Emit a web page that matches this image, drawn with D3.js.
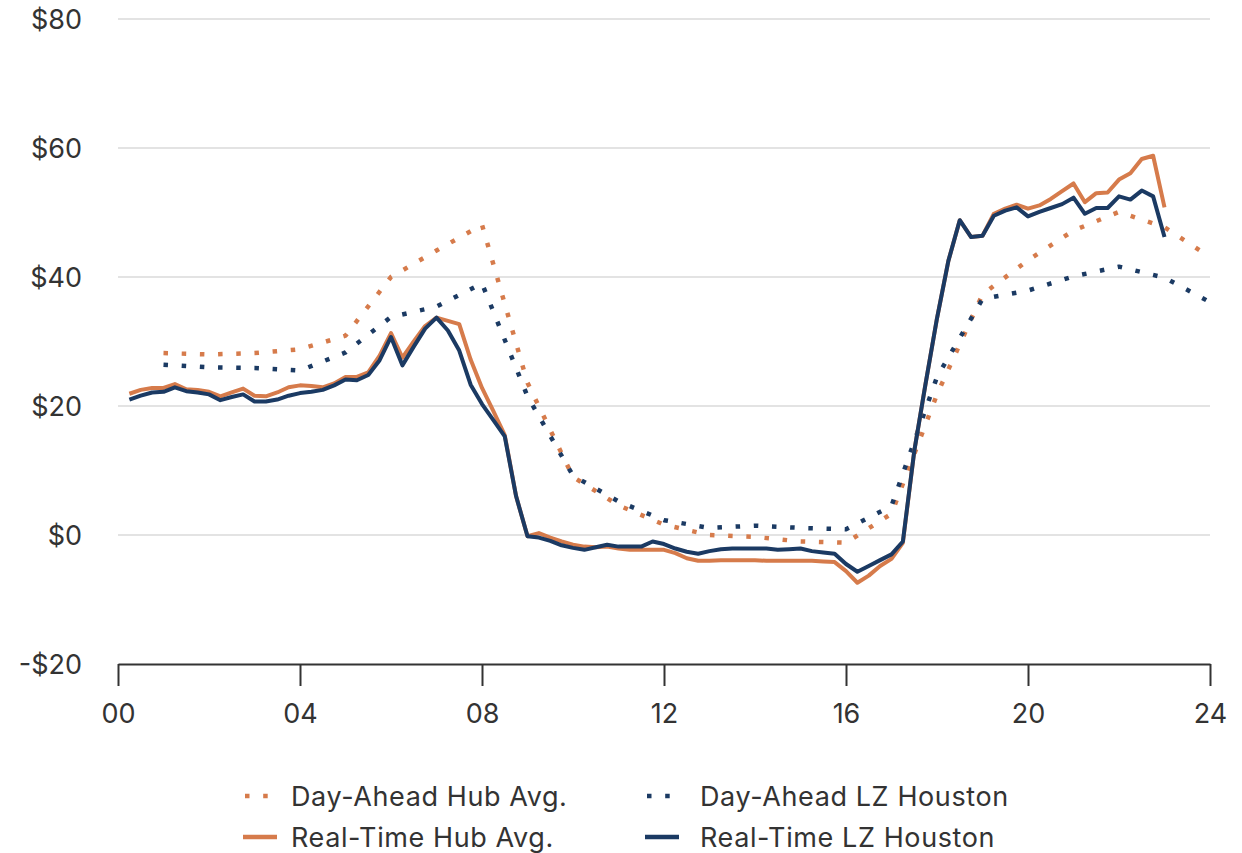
<!DOCTYPE html>
<html>
<head>
<meta charset="utf-8">
<script src="https://cdn.jsdelivr.net/npm/d3@7"></script>
<style>
  html, body { margin: 0; padding: 0; background: #fff; }
  svg { display: block; }
  text { font-family: Inter, "Liberation Sans", Arial, sans-serif; fill: #333; }
</style>
</head>
<body>
<svg id="chart" width="1242" height="853"></svg>
<script>
// ---- Data ----
const yTickValues = [-20, 0, 20, 40, 60, 80];
const xTickValues = [0, 4, 8, 12, 16, 20, 24];
const xTickLabels = ["00", "04", "08", "12", "16", "20", "24"];

const seriesNames = ["Day-Ahead Hub Avg.", "Day-Ahead LZ Houston", "Real-Time Hub Avg.", "Real-Time LZ Houston"];

// Day-ahead: hourly, hour-ending 1..24
const daHours = d3.range(1, 25);
const daHubAvg = [28.2, 28.0, 28.2, 28.8, 30.9, 40.0, 44.1, 48.1, 23.6, 9.0, 4.6, 1.6,
                  0.0, -0.3, -1.0, -1.2, 3.3, 21.8, 37.3, 42.6, 47.2, 50.1, 47.7, 43.1];
const daLzHouston = [26.4, 26.0, 25.9, 25.5, 28.3, 33.8, 35.4, 39.0, 21.5, 9.2, 5.2, 2.3,
                     1.1, 1.45, 1.1, 0.9, 4.5, 24.5, 36.6, 37.9, 40.1, 41.6, 39.9, 36.1];

// Real-time: 15-minute intervals, 00:15 .. 23:00
const rtHours = d3.range(1, 93).map(i => i / 4);
const rtHubAvg = [
  21.9, 22.5, 22.8, 22.8,  23.4, 22.6, 22.5, 22.2,  21.5, 22.1, 22.7, 21.6,  21.5, 22.1, 22.9, 23.2,
  23.1, 22.9, 23.5, 24.5,  24.5, 25.2, 27.8, 31.3,  27.5, 30.0, 32.4, 33.7,  33.2, 32.7, 27.2, 22.8,
  19.2, 15.5, 6.0, -0.2,   0.3, -0.4, -1.0, -1.5,   -1.8, -1.9, -1.8, -2.1,  -2.3, -2.3, -2.3, -2.3,
  -2.8, -3.6, -4.0, -4.0,  -3.9, -3.9, -3.9, -3.9,  -4.0, -4.0, -4.0, -4.0,  -4.0, -4.1, -4.2, -5.6,
  -7.4, -6.3, -4.8, -3.7,  -1.2, 13.0, 23.5, 33.6,  42.5, 48.8, 46.2, 46.4,  49.8, 50.6, 51.2, 50.6,
  51.1, 52.1, 53.3, 54.5,  51.6, 53.0, 53.1, 55.1,  56.1, 58.3, 58.8, 50.8
];
const rtLzHouston = [
  21.0, 21.6, 22.1, 22.2,  22.9, 22.3, 22.1, 21.8,  20.9, 21.4, 21.8, 20.7,  20.7, 21.0, 21.6, 22.0,
  22.2, 22.5, 23.2, 24.1,  24.0, 24.8, 27.1, 30.7,  26.3, 29.2, 32.0, 33.7,  31.7, 28.6, 23.3, 20.3,
  17.8, 15.3, 6.0, -0.2,   -0.4, -0.9, -1.6, -2.0,  -2.3, -1.9, -1.5, -1.8,  -1.8, -1.8, -1.0, -1.4,
  -2.1, -2.6, -2.9, -2.5,  -2.2, -2.1, -2.1, -2.1,  -2.1, -2.3, -2.2, -2.1,  -2.5, -2.7, -2.9, -4.5,
  -5.7, -4.8, -3.9, -3.0,  -1.0, 13.0, 23.5, 33.6,  42.5, 48.8, 46.2, 46.4,  49.5, 50.3, 50.8, 49.4,
  50.1, 50.7, 51.3, 52.3,  49.8, 50.7, 50.7, 52.5,  52.0, 53.4, 52.5, 46.2
];

// ---- Styles ----
const ORANGE = "#d67b4b";
const NAVY = "#1b3a63";
const FONT = "Inter, \"Liberation Sans\", Arial, sans-serif";

const svg = d3.select("#chart");
svg.append("rect").attr("width", 1242).attr("height", 853).attr("fill", "#fff");

const x = d3.scaleLinear().domain([0, 24]).range([118, 1210]);
const y = d3.scaleLinear().domain([-20, 80]).range([664, 19]);

// gridlines
svg.append("g")
  .selectAll("line")
  .data(yTickValues.filter(v => v !== -20))
  .join("line")
  .attr("x1", x(0)).attr("x2", x(24))
  .attr("y1", d => y(d)).attr("y2", d => y(d))
  .attr("stroke", "#e3e3e3").attr("stroke-width", 2);

// y labels
const fmt = v => (v < 0 ? "-$" + Math.abs(v) : "$" + v);
svg.append("g")
  .selectAll("text")
  .data(yTickValues)
  .join("text")
  .attr("x", 82).attr("y", d => y(d))
  .attr("dy", "0.36em")
  .attr("text-anchor", "end")
  .style("font-size", "27px")
  .text(fmt);

// x axis
const xAxis = d3.axisBottom(x)
  .tickValues(xTickValues)
  .tickFormat((d, i) => xTickLabels[i])
  .tickSizeInner(22).tickSizeOuter(0).tickPadding(18);
const gx = svg.append("g").attr("transform", `translate(0,${y(-20)})`).call(xAxis);
gx.select(".domain").attr("stroke", "#333").attr("stroke-width", 2);
gx.selectAll(".tick line").attr("stroke", "#333").attr("stroke-width", 2);
gx.selectAll(".tick text")
  .style("font-size", "27px")
  .style("font-family", FONT)
  .attr("fill", "#333");

// lines
const lineGen = d3.line().x(d => x(d[0])).y(d => y(d[1]));
const zip = (xs, ys) => xs.map((v, i) => [v, ys[i]]);

const dotted = { "stroke-width": 4.5, "stroke-dasharray": "4.5,13.7", "stroke-linecap": "butt" };

function drawLine(data, color, opts) {
  const p = svg.append("path")
    .datum(data)
    .attr("fill", "none")
    .attr("stroke", color)
    .attr("stroke-linejoin", "round")
    .attr("d", lineGen);
  Object.entries(opts).forEach(([k, v]) => p.attr(k, v));
}

drawLine(zip(daHours, daHubAvg), ORANGE, dotted);
drawLine(zip(daHours, daLzHouston), NAVY, dotted);
drawLine(zip(rtHours, rtHubAvg), ORANGE, { "stroke-width": 4 });
drawLine(zip(rtHours, rtLzHouston), NAVY, { "stroke-width": 4 });

// legend
const legendItems = [
  { name: seriesNames[0], color: ORANGE, dotted: true,  col: 0, row: 0 },
  { name: seriesNames[1], color: NAVY,   dotted: true,  col: 1, row: 0 },
  { name: seriesNames[2], color: ORANGE, dotted: false, col: 0, row: 1 },
  { name: seriesNames[3], color: NAVY,   dotted: false, col: 1, row: 1 }
];
const colX = [243, 645];
const rowY = [796, 837];
const lg = svg.append("g");
legendItems.forEach(it => {
  const gx0 = colX[it.col], gy = rowY[it.row];
  if (it.dotted) {
    lg.append("line")
      .attr("x1", gx0 + 2).attr("x2", gx0 + 30)
      .attr("y1", gy).attr("y2", gy)
      .attr("stroke", it.color).attr("stroke-width", 4.5)
      .attr("stroke-dasharray", "4.5,13.7");
  } else {
    lg.append("line")
      .attr("x1", gx0).attr("x2", gx0 + 34)
      .attr("y1", gy).attr("y2", gy)
      .attr("stroke", it.color).attr("stroke-width", 4.5);
  }
  lg.append("text")
    .attr("x", gx0 + (it.col === 0 ? 48 : 55)).attr("y", gy)
    .attr("dy", "0.36em")
    .style("font-size", "27px")
    .style("letter-spacing", "0.6px")
    .text(it.name);
});
</script>
</body>
</html>
